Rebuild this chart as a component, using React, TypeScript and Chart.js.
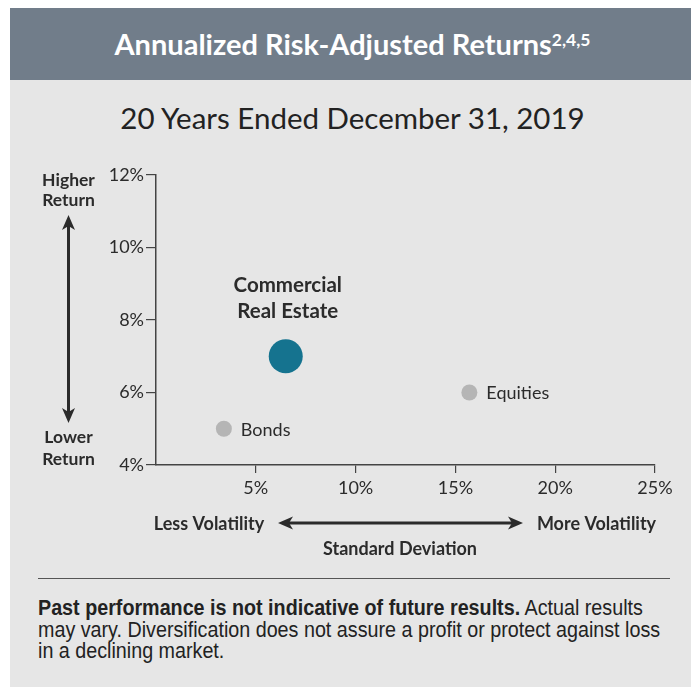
import React, { useEffect, useLayoutEffect, useRef, useState } from "react";
import { Chart, registerables } from "chart.js";
Chart.register(...registerables);

// ---- data ----
const assetNames = ["Commercial Real Estate", "Bonds", "Equities"];
const assetLabelLines = [["Commercial", "Real Estate"], ["Bonds"], ["Equities"]];
const stdDeviation = [6.5, 3.4, 15.7]; // x, %
const annualReturn = [7.0, 5.0, 6.0]; // y, %
const xTickValues = [5, 10, 15, 20, 25];
const yTickValues = [4, 6, 8, 10, 12];

const titleText = "Annualized Risk-Adjusted Returns";
const titleNotes = "2,4,5";
const subtitleText = "20 Years Ended December 31, 2019";
const footerBold = "Past performance is not indicative of future results.";
const footerLines = [
  " Actual results",
  "may vary. Diversification does not assure a profit or protect against loss",
  "in a declining market.",
];

const FONT = "Lato, 'Open Sans', sans-serif";
const TEXT = "#2b2b2b";

const pointLabelPlugin = {
  id: "pointLabels",
  afterDatasetsDraw(chart: any) {
    const ctx = chart.ctx;
    ctx.save();
    chart.data.datasets.forEach((ds: any, i: number) => {
      const meta = chart.getDatasetMeta(i);
      const pt = meta.data[0];
      if (!pt) return;
      const lines = assetLabelLines[i];
      ctx.fillStyle = TEXT;
      if (i === 0) {
        ctx.font = `bold 20.5px ${FONT}`;
        ctx.textAlign = "center";
        ctx.textBaseline = "alphabetic";
        ctx.fillText(lines[0], pt.x + 2, pt.y - 64);
        ctx.fillText(lines[1], pt.x + 2, pt.y - 38);
      } else {
        ctx.font = `18px ${FONT}`;
        ctx.textAlign = "left";
        ctx.textBaseline = "middle";
        ctx.fillText(lines[0], pt.x + 17, pt.y + 1);
      }
    });
    ctx.restore();
  },
};

function arrow(ctx: any, x1: number, y1: number, x2: number, y2: number) {
  const ang = Math.atan2(y2 - y1, x2 - x1);
  const head = 15;
  const half = 6.5;
  ctx.beginPath();
  ctx.moveTo(x1 + Math.cos(ang) * 8, y1 + Math.sin(ang) * 8);
  ctx.lineTo(x2 - Math.cos(ang) * 8, y2 - Math.sin(ang) * 8);
  ctx.stroke();
  const drawHead = (tx: number, ty: number, a: number) => {
    const bx = tx - Math.cos(a) * head;
    const by = ty - Math.sin(a) * head;
    const nx = -Math.sin(a);
    const ny = Math.cos(a);
    const mx = tx - Math.cos(a) * (head - 4);
    const my = ty - Math.sin(a) * (head - 4);
    ctx.beginPath();
    ctx.moveTo(tx, ty);
    ctx.lineTo(bx + nx * half, by + ny * half);
    ctx.lineTo(mx, my);
    ctx.lineTo(bx - nx * half, by - ny * half);
    ctx.closePath();
    ctx.fill();
  };
  drawHead(x2, y2, ang);
  drawHead(x1, y1, ang + Math.PI);
}

const axisNotePlugin = {
  id: "axisNotes",
  afterDraw(chart: any) {
    const ctx = chart.ctx;
    const { left, top, bottom } = chart.chartArea;
    ctx.save();
    ctx.fillStyle = TEXT;
    ctx.strokeStyle = TEXT;
    ctx.lineWidth = 3;
    ctx.font = `bold 17.5px ${FONT}`;
    ctx.textAlign = "center";
    ctx.textBaseline = "alphabetic";
    const vx = left - 87.5;
    ctx.fillText("Higher", vx, top + 11);
    ctx.fillText("Return", vx, top + 31);
    ctx.fillText("Lower", vx, bottom - 22);
    ctx.fillText("Return", vx, bottom);
    arrow(ctx, vx, top + 40, vx, bottom - 42);

    ctx.font = `bold 18px ${FONT}`;
    const hy = bottom + 58;
    ctx.textBaseline = "middle";
    ctx.fillText("Less Volatility", left + 53, hy + 1);
    ctx.fillText("More Volatility", left + 440.5, hy + 1);
    arrow(ctx, left + 122, hy, left + 367, hy);
    ctx.textBaseline = "alphabetic";
    ctx.fillText("Standard Deviation", left + 244, bottom + 90);
    ctx.restore();
  },
};

function RiskChart() {
  const ref = useRef<HTMLCanvasElement | null>(null);
  useEffect(() => {
    if (!ref.current) return;
    const pointColors = ["#15738f", "#b5b5b5", "#b5b5b5"];
    const pointSizes = [17, 8, 8];
    const chart = new Chart(ref.current, {
      type: "scatter",
      data: {
        datasets: assetNames.map((name, i) => ({
          label: name,
          data: [{ x: stdDeviation[i], y: annualReturn[i] }],
          backgroundColor: pointColors[i],
          borderColor: pointColors[i],
          borderWidth: 0,
          pointRadius: pointSizes[i],
          pointHoverRadius: pointSizes[i],
        })),
      },
      options: {
        responsive: false,
        animation: false,
        events: [],
        layout: { padding: { left: 50, top: 17, right: 40, bottom: 73 } },
        plugins: {
          legend: { display: false },
          tooltip: { enabled: false },
          title: { display: false },
        },
        scales: {
          x: {
            type: "linear",
            min: 0,
            max: 25,
            afterBuildTicks: (axis: any) => {
              axis.ticks = xTickValues.map((v) => ({ value: v }));
            },
            afterFit: (scale: any) => {
              scale.height = 40;
            },
            ticks: {
              callback: (v: any) => `${v}%`,
              color: TEXT,
              font: { family: FONT, size: 18 },
              padding: 4,
              maxRotation: 0,
            },
            grid: {
              display: true,
              drawOnChartArea: false,
              drawTicks: true,
              tickLength: 8,
              color: "#444",
              lineWidth: 1.2,
            },
            border: { display: true, color: "#444", width: 1.5 },
          },
          y: {
            type: "linear",
            min: 4,
            max: 12,
            afterBuildTicks: (axis: any) => {
              axis.ticks = yTickValues.map((v) => ({ value: v }));
            },
            afterFit: (scale: any) => {
              scale.width = 96;
            },
            ticks: {
              callback: (v: any) => `${v}%`,
              color: TEXT,
              font: { family: FONT, size: 18 },
              padding: 2,
            },
            grid: {
              display: true,
              drawOnChartArea: false,
              drawTicks: true,
              tickLength: 10,
              color: "#444",
              lineWidth: 1.2,
            },
            border: { display: true, color: "#444", width: 1.5 },
          },
        },
      },
      plugins: [pointLabelPlugin, axisNotePlugin],
    } as any);
    return () => chart.destroy();
  }, []);
  return <canvas ref={ref} width={685} height={420} style={{ display: "block" }} />;
}

function Footer() {
  const firstLine = useRef<HTMLSpanElement | null>(null);
  const [scale, setScale] = useState(0.9);
  useLayoutEffect(() => {
    if (firstLine.current) {
      const w = firstLine.current.offsetWidth;
      if (w > 0) setScale(605 / w);
    }
  }, []);
  const lineStyle: React.CSSProperties = {
    display: "block",
    whiteSpace: "nowrap",
    height: 21.5,
  };
  return (
    <div
      style={{
        position: "absolute",
        left: 28,
        top: 589,
        fontFamily: "'Liberation Sans', Arial, sans-serif",
        fontSize: 22,
        lineHeight: "21.5px",
        color: "#222",
        transform: `scaleX(${scale})`,
        transformOrigin: "0 0",
      }}
    >
      <div style={lineStyle}>
        <span ref={firstLine} style={{ display: "inline-block" }}>
          <b>{footerBold}</b>
          {footerLines[0]}
        </span>
      </div>
      <div style={lineStyle}>{footerLines[1]}</div>
      <div style={lineStyle}>{footerLines[2]}</div>
    </div>
  );
}

export default function App() {
  return (
    <div
      style={{
        position: "relative",
        marginLeft: 2,
        width: 685,
        height: 679,
        background: "#e6e6e6",
        overflow: "hidden",
      }}
    >
      <div
        style={{
          position: "absolute",
          left: 0,
          top: 0,
          width: 685,
          height: 72,
          background: "#717d8a",
          color: "#ffffff",
          fontFamily: FONT,
          fontWeight: 700,
          fontSize: 29,
          lineHeight: "72px",
          textAlign: "center",
          whiteSpace: "nowrap",
        }}
      >
        {titleText}
        <sup style={{ fontSize: 17.5, fontWeight: 700, verticalAlign: "9px", lineHeight: 0 }}>{titleNotes}</sup>
      </div>
      <div
        style={{
          position: "absolute",
          left: 0,
          top: 95,
          width: 685,
          height: 30,
          lineHeight: "30px",
          fontFamily: FONT,
          fontSize: 29.5,
          color: "#222",
          textAlign: "center",
          whiteSpace: "nowrap",
        }}
      >
        {subtitleText}
      </div>
      <div style={{ position: "absolute", left: 0, top: 150 }}>
        <RiskChart />
      </div>
      <div
        style={{
          position: "absolute",
          left: 28,
          top: 570,
          width: 632,
          height: 0,
          borderTop: "1px solid #555",
        }}
      />
      <Footer />
    </div>
  );
}
